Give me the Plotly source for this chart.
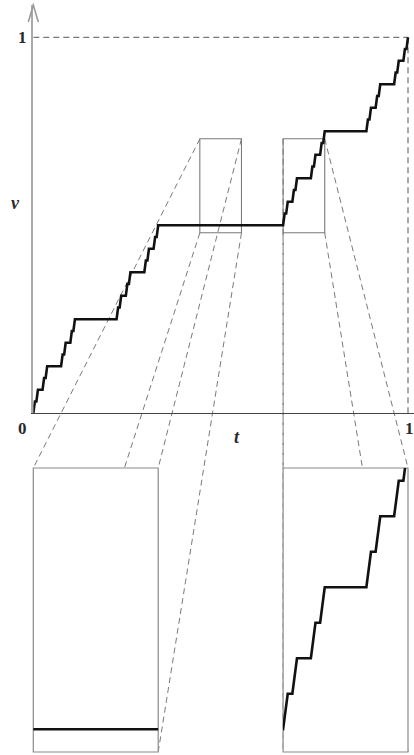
import plotly.graph_objects as go

W, H = 414, 755

# Cantor staircase plateaus: t in units of 1/243, plateau k sits at v = k/32
plateau_start = [1, 3, 7, 9, 19, 21, 25, 27, 55, 57, 61, 63, 73, 75, 79, 81,
                 163, 165, 169, 171, 181, 183, 187, 189, 217, 219, 223, 225, 235, 237, 241]
plateau_end = [2, 6, 8, 18, 20, 24, 26, 54, 56, 60, 62, 72, 74, 78, 80, 162,
               164, 168, 170, 180, 182, 186, 188, 216, 218, 222, 224, 234, 236, 240, 242]
plateau_level = list(range(1, 32))
T_UNIT, V_UNIT = 243, 32

# magnified windows
window_left_t = [4 / 9, 5 / 9]
window_right_t = [2 / 3, 7 / 9]
window_v = [0.48, 0.73]
MAG = 3

# staircase polyline
t_vals, v_vals = [0.0], [0.0]
for s, e, k in zip(plateau_start, plateau_end, plateau_level):
    t_vals += [s / T_UNIT, e / T_UNIT]
    v_vals += [k / V_UNIT, k / V_UNIT]
t_vals.append(1.0)
v_vals.append(1.0)

# page geometry (pixels)
ORIGIN_X, ONE_X = 33.3, 408.0
AXIS_Y, ONE_Y, TOP_Y = 413.3, 37.3, 5.0
LOW_TOP, LOW_BOT = 468.0, 752.0

px = lambda x: x / W
py = lambda y: 1 - y / H

sx = ONE_X - ORIGIN_X
sy = AXIS_Y - ONE_Y
main_xdom = [px(ORIGIN_X), 1.0]
main_xrng = [0, (W - ORIGIN_X) / sx]
main_ydom = [py(AXIS_Y), py(TOP_Y)]
main_yrng = [0, (AXIS_Y - TOP_Y) / sy]


def to_paper(t, v):
    x = main_xdom[0] + (t - main_xrng[0]) / (main_xrng[1] - main_xrng[0]) * (main_xdom[1] - main_xdom[0])
    y = main_ydom[0] + (v - main_yrng[0]) / (main_yrng[1] - main_yrng[0]) * (main_ydom[1] - main_ydom[0])
    return x, y


left_x0 = ORIGIN_X
left_x1 = ORIGIN_X + MAG * (window_left_t[1] - window_left_t[0]) * sx
right_x1 = ONE_X
right_x0 = ONE_X - MAG * (window_right_t[1] - window_right_t[0]) * sx
low_ydom = [py(LOW_BOT), py(LOW_TOP)]

GREY = "#7a7a7a"
CURVE = "#111111"

fig = go.Figure()
for xa, ya in [("x", "y"), ("x2", "y2"), ("x3", "y3")]:
    fig.add_trace(go.Scatter(x=t_vals, y=v_vals, mode="lines", xaxis=xa, yaxis=ya,
                             line=dict(color=CURVE, width=2.6), hoverinfo="skip"))

shapes = []
# connectors from each window to its magnified box
for trange, bx0, bx1 in [(window_left_t, left_x0, left_x1), (window_right_t, right_x0, right_x1)]:
    corners = [((trange[0], window_v[1]), (px(bx0), py(LOW_TOP))),
               ((trange[1], window_v[1]), (px(bx1), py(LOW_TOP))),
               ((trange[0], window_v[0]), (px(bx0), py(LOW_BOT))),
               ((trange[1], window_v[0]), (px(bx1), py(LOW_BOT)))]
    for (t, v), (qx, qy) in corners:
        ax_, ay_ = to_paper(t, v)
        shapes.append(dict(type="line", xref="paper", yref="paper", x0=ax_, y0=ay_, x1=qx, y1=qy,
                           line=dict(color=GREY, width=1, dash="6px,4px"), layer="below"))

# magnified boxes (opaque)
for xa, ya in [("x2", "y2"), ("x3", "y3")]:
    shapes.append(dict(type="rect", xref=f"{xa} domain", yref=f"{ya} domain", x0=0, x1=1, y0=0, y1=1,
                       fillcolor="white", line=dict(color="#8a8a8a", width=1.2), layer="below"))

# windows on the main plot
for trange in [window_left_t, window_right_t]:
    shapes.append(dict(type="rect", xref="x", yref="y", x0=trange[0], x1=trange[1],
                       y0=window_v[0], y1=window_v[1], line=dict(color=GREY, width=1.1), layer="below"))

# guide lines at v = 1 and t = 1
shapes.append(dict(type="line", xref="x", yref="y", x0=0, x1=1, y0=1, y1=1,
                   line=dict(color="#555", width=1, dash="6px,4px"), layer="below"))
shapes.append(dict(type="line", xref="x", yref="y", x0=1, x1=1, y0=0, y1=1,
                   line=dict(color="#555", width=1, dash="6px,4px"), layer="below"))

# open arrow head at the top of the v axis
tip_x, tip_y = px(ORIGIN_X), py(TOP_Y)
arm_dx, arm_dy = 5 / W, 17 / H
shapes.append(dict(type="path", xref="paper", yref="paper",
                   path=f"M {tip_x - arm_dx},{tip_y - arm_dy} L {tip_x},{tip_y} L {tip_x + arm_dx},{tip_y - arm_dy}",
                   line=dict(color="#9a9a9a", width=1.6)))

fig.update_layout(shapes=shapes)

serif = "Liberation Serif"
labels = [("0", 22, 428, False), ("1", 22, 37.3, False), ("1", 409, 428, False),
          ("t", 237, 437, True), ("v", 15, 203, True)]
for txt, x, y, ital in labels:
    fig.add_annotation(x=px(x), y=py(y), xref="paper", yref="paper", showarrow=False,
                       text=f"<i><b>{txt}</b></i>" if ital else f"<b>{txt}</b>",
                       font=dict(family=serif, size=18 if ital else 17, color="#2a2a2a"),
                       xanchor="center", yanchor="middle")

noaxis = dict(showgrid=False, zeroline=False, showticklabels=False, ticks="", fixedrange=True)
fig.update_layout(
    width=W, height=H, margin=dict(l=0, r=0, t=0, b=0),
    paper_bgcolor="white", plot_bgcolor="white", showlegend=False,
    xaxis=dict(domain=main_xdom, range=main_xrng, showline=True, linecolor="#444", linewidth=1,
               anchor="y", **noaxis),
    yaxis=dict(domain=main_ydom, range=main_yrng, showline=True, linecolor="#aaa", linewidth=1.6,
               anchor="x", **noaxis),
    xaxis2=dict(domain=[px(left_x0), px(left_x1)], range=window_left_t, anchor="y2", visible=False,
                **noaxis),
    yaxis2=dict(domain=low_ydom, range=window_v, anchor="x2", visible=False, **noaxis),
    xaxis3=dict(domain=[px(right_x0), px(right_x1)], range=window_right_t, anchor="y3", visible=False,
                **noaxis),
    yaxis3=dict(domain=low_ydom, range=window_v, anchor="x3", visible=False, **noaxis),
)

fig.write_html("out.html", config={"displayModeBar": False})
